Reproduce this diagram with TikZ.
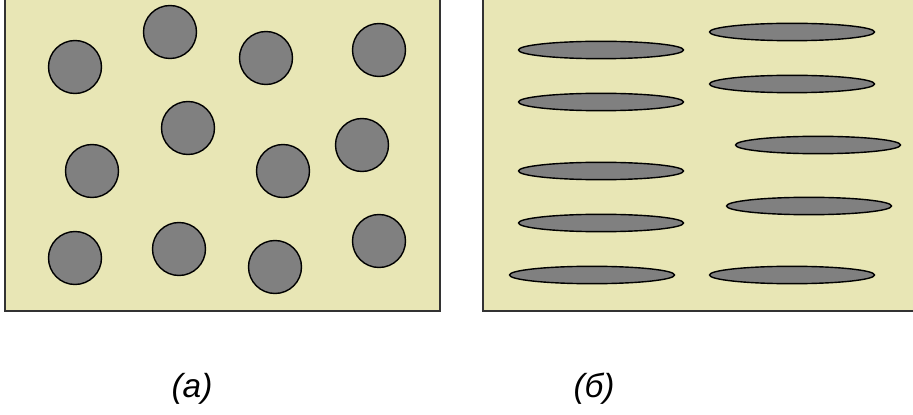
\documentclass[tikz,border=0pt]{standalone}
\usepackage{fontspec}
\setmainfont{Liberation Sans}
\usepackage{tikz}
\usetikzlibrary{positioning}
\definecolor{matrixfill}{RGB}{232,230,181}
\definecolor{grainfill}{RGB}{128,128,128}

\begin{document}
\begin{tikzpicture}[
    x=0.02cm, y=-0.02cm,
    panel/.style={draw=black!80, line width=0.8pt, fill=matrixfill},
    grain/.style={draw=black, line width=0.8pt, fill=grainfill},
    caption/.style={font=\fontsize{19}{22}\selectfont\itshape}
]
\useasboundingbox (0,0) rectangle (913,415);
\clip (0,0) rectangle (913,415);
% panels
\draw[panel] (5,-5) rectangle (440,311);
\draw[panel] (483,-5) rectangle (925,311);
% (a) round grains
\foreach \gx/\gy in {75/67, 170/32, 266/58, 379/50, 188/128, 92/171,
                     283/171, 362/145, 75/258, 179/249, 275/267, 379/241}
    \draw[grain] (\gx,\gy) circle[radius=26.5];
% (b) flattened grains
\foreach \gx/\gy in {601/50, 601/102, 601/171, 601/223, 592/275,
                     792/32, 792/84, 818/145, 809/206, 792/275}
    \draw[grain] (\gx,\gy) ellipse[x radius=82.5, y radius=8.7];
% captions
\node[caption] (capa) at (192,389) {(а)};
\node[caption] (capb) at (594,389) {(б)};
\end{tikzpicture}
\end{document}
